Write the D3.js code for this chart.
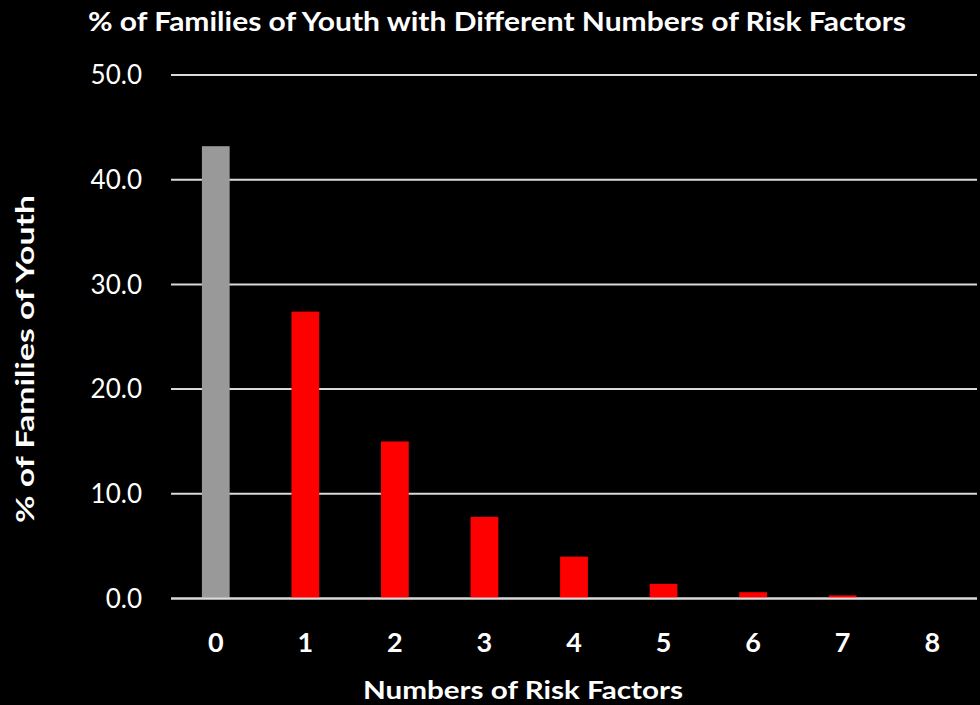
<!DOCTYPE html>
<html><head><meta charset="utf-8">
<script src="https://cdn.jsdelivr.net/npm/d3@7"></script>
<style>html,body{margin:0;padding:0;background:#000;}svg{display:block;}</style>
</head><body>
<script>
const categories = ["0","1","2","3","4","5","6","7","8"];
const values = [43.2, 27.4, 15.0, 7.8, 4.0, 1.4, 0.6, 0.3, 0.0];
const barColors = ["#999999","#ff0000","#ff0000","#ff0000","#ff0000","#ff0000","#ff0000","#ff0000","#ff0000"];
const yTicks = [0,10,20,30,40,50];
const title = "% of Families of Youth with Different Numbers of Risk Factors";
const xTitle = "Numbers of Risk Factors";
const yTitle = "% of Families of Youth";

const W = 980, H = 705;
const m = {left:171, right:3, top:75, bottom:106.5};
const svg = d3.select("body").append("svg").attr("width",W).attr("height",H).style("background","#000");
svg.append("rect").attr("width",W).attr("height",H).attr("fill","#000");
const font = "Lato, 'Open Sans', sans-serif";

const x = d3.scaleBand().domain(categories).range([m.left, W-m.right]).paddingInner(0.69).paddingOuter(0.345);
const y = d3.scaleLinear().domain([0,50]).range([H-m.bottom, m.top]);

// gridlines
svg.append("g").selectAll("line").data(yTicks).join("line")
  .attr("x1", m.left).attr("x2", W-m.right)
  .attr("y1", d=>y(d)).attr("y2", d=>y(d))
  .attr("stroke","#d9d9d9").attr("stroke-width",2);

// bars
svg.append("g").selectAll("rect").data(values).join("rect")
  .attr("x",(d,i)=>x(categories[i]))
  .attr("width", x.bandwidth())
  .attr("y", d=>y(d))
  .attr("height", d=>y(0)-y(d))
  .attr("fill",(d,i)=>barColors[i]);

// zero line on top
svg.append("line").attr("x1",m.left).attr("x2",W-m.right).attr("y1",y(0)).attr("y2",y(0))
  .attr("stroke","#d9d9d9").attr("stroke-width",2);

// y tick labels
svg.append("g").selectAll("text").data(yTicks).join("text")
  .attr("x",142).attr("y",d=>y(d)).attr("dy","0.36em")
  .attr("text-anchor","end").attr("fill","#fff")
  .style("font-family",font).style("font-size","26px")
  .text(d=>d3.format(".1f")(d));

// x tick labels
svg.append("g").selectAll("text").data(categories).join("text")
  .attr("x",d=>x(d)+x.bandwidth()/2).attr("y",652)
  .attr("text-anchor","middle").attr("fill","#fff")
  .style("font-family",font).style("font-weight","bold").style("font-size","27px")
  .text(d=>d);

// title
svg.append("text").attr("x",497).attr("y",31).attr("text-anchor","middle").attr("fill","#fff")
  .style("font-family",font).style("font-weight","bold").style("font-size","27px")
  .attr("textLength",818).attr("lengthAdjust","spacingAndGlyphs")
  .text(title);

// x title
svg.append("text").attr("x",523).attr("y",699).attr("text-anchor","middle").attr("fill","#fff")
  .style("font-family",font).style("font-weight","bold").style("font-size","25px")
  .attr("textLength",320).attr("lengthAdjust","spacingAndGlyphs")
  .text(xTitle);

// y title
svg.append("text").attr("transform","translate(34,359) rotate(-90)").attr("text-anchor","middle").attr("fill","#fff")
  .style("font-family",font).style("font-weight","bold").style("font-size","25px")
  .attr("textLength",328).attr("lengthAdjust","spacingAndGlyphs")
  .text(yTitle);
</script>
</body></html>
